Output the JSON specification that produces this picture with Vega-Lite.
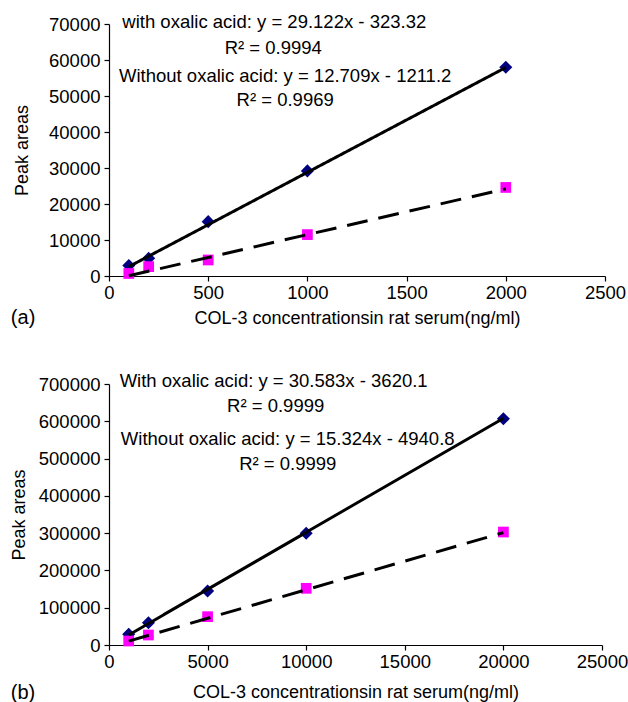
{
  "$schema": "https://vega.github.io/schema/vega-lite/v6.json",
  "background": "white",
  "padding": {"left": 10, "top": 13, "right": 0, "bottom": 0},
  "spacing": 43,
  "config": {
    "view": {"stroke": null},
    "font": "Liberation Sans",
    "axis": {
      "grid": false, "domainColor": "black", "tickColor": "black", "labelColor": "black", "titleColor": "black",
      "labelFont": "Liberation Sans", "titleFont": "Liberation Sans", "labelFontSize": 18.5, "titleFontSize": 18,
      "titleFontWeight": "normal", "tickSize": 5, "domainWidth": 1.2, "tickWidth": 1.2,
      "labelFlush": false, "labelOverlap": false, "labelBound": false
    },
    "text": {"font": "Liberation Sans", "fontSize": 18.5, "color": "black"}
  },
  "datasets": {
    "one": [{"k": 1}],
    "a_pts": [
      {"series": "with", "conc": 100, "area": 2900},
      {"series": "with", "conc": 200, "area": 4900},
      {"series": "with", "conc": 500, "area": 15100},
      {"series": "with", "conc": 1000, "area": 29200},
      {"series": "with", "conc": 2000, "area": 58000},
      {"series": "without", "conc": 100, "area": 700},
      {"series": "without", "conc": 200, "area": 2600},
      {"series": "without", "conc": 500, "area": 4450},
      {"series": "without", "conc": 1000, "area": 11500},
      {"series": "without", "conc": 2000, "area": 24600}
    ],
    "a_fit": [
      {"series": "with", "conc": 100, "area": 2589},
      {"series": "with", "conc": 2000, "area": 57921},
      {"series": "without", "conc": 100, "area": 60},
      {"series": "without", "conc": 2000, "area": 24207}
    ],
    "b_pts": [
      {"series": "with", "conc": 1000, "area": 28700},
      {"series": "with", "conc": 2000, "area": 59800},
      {"series": "with", "conc": 5000, "area": 144800},
      {"series": "with", "conc": 10000, "area": 299500},
      {"series": "with", "conc": 20000, "area": 607000},
      {"series": "without", "conc": 1000, "area": 10700},
      {"series": "without", "conc": 2000, "area": 26800},
      {"series": "without", "conc": 5000, "area": 76000},
      {"series": "without", "conc": 10000, "area": 152000},
      {"series": "without", "conc": 20000, "area": 303000}
    ],
    "b_fit": [
      {"series": "with", "conc": 1000, "area": 26963},
      {"series": "with", "conc": 20000, "area": 608040},
      {"series": "without", "conc": 1000, "area": 10383},
      {"series": "without", "conc": 20000, "area": 301539}
    ]
  },
  "vconcat": [
    {
      "width": 496,
      "height": 252,
      "encoding": {
        "x": {"type": "quantitative", "scale": {"domain": [0, 2500], "nice": false},
              "axis": {"values": [0, 500, 1000, 1500, 2000, 2500], "format": "d", "labelPadding": 2, "titlePadding": 8, "title": "COL-3 concentrationsin rat serum(ng/ml)"}},
        "y": {"type": "quantitative", "scale": {"domain": [0, 70000], "nice": false},
              "axis": {"values": [0, 10000, 20000, 30000, 40000, 50000, 60000, 70000], "format": "d", "labelPadding": 4, "titlePadding": 17, "title": "Peak areas"}}
      },
      "layer": [
        {
          "data": {"name": "a_pts"},
          "mark": {"type": "point", "filled": true, "opacity": 1, "strokeWidth": 0},
          "encoding": {
            "x": {"field": "conc", "type": "quantitative"},
            "y": {"field": "area", "type": "quantitative"},
            "shape": {"field": "series", "type": "nominal", "scale": {"domain": ["with", "without"], "range": ["diamond", "square"]}, "legend": null},
            "color": {"field": "series", "type": "nominal", "scale": {"domain": ["with", "without"], "range": ["#000080", "#FF00FF"]}, "legend": null},
            "size": {"field": "series", "type": "nominal", "scale": {"domain": ["with", "without"], "range": [170, 115]}, "legend": null}
          }
        },
        {
          "data": {"name": "a_fit"},
          "mark": {"type": "line", "color": "black", "strokeWidth": 3},
          "encoding": {
            "x": {"field": "conc", "type": "quantitative"},
            "y": {"field": "area", "type": "quantitative"},
            "detail": {"field": "series"},
            "strokeDash": {"field": "series", "type": "nominal", "scale": {"domain": ["with", "without"], "range": [[1, 0], [21, 11]]}, "legend": null}
          }
        },
        {"data": {"name": "one"}, "mark": {"type": "text"}, "encoding": {"x": {"datum": 833}, "y": {"datum": 70500}, "text": {"value": "with oxalic acid: y = 29.122x - 323.32"}}},
        {"data": {"name": "one"}, "mark": {"type": "text"}, "encoding": {"x": {"datum": 828}, "y": {"datum": 63300}, "text": {"value": "R² = 0.9994"}}},
        {"data": {"name": "one"}, "mark": {"type": "text"}, "encoding": {"x": {"datum": 888}, "y": {"datum": 55600}, "text": {"value": "Without oxalic acid: y = 12.709x - 1211.2"}}},
        {"data": {"name": "one"}, "mark": {"type": "text"}, "encoding": {"x": {"datum": 888}, "y": {"datum": 48900}, "text": {"value": "R² = 0.9969"}}},
        {"data": {"name": "one"}, "mark": {"type": "text", "fontSize": 20}, "encoding": {"x": {"datum": -433}, "y": {"datum": -11667}, "text": {"value": "(a)"}}}
      ]
    },
    {
      "width": 493,
      "height": 261,
      "encoding": {
        "x": {"type": "quantitative", "scale": {"domain": [0, 25000], "nice": false},
              "axis": {"values": [0, 5000, 10000, 15000, 20000, 25000], "format": "d", "labelPadding": 2, "titlePadding": 13, "title": "COL-3 concentrationsin rat serum(ng/ml)"}},
        "y": {"type": "quantitative", "scale": {"domain": [0, 700000], "nice": false},
              "axis": {"values": [0, 100000, 200000, 300000, 400000, 500000, 600000, 700000], "format": "d", "labelPadding": 4, "titlePadding": 10, "title": "Peak areas"}}
      },
      "layer": [
        {
          "data": {"name": "b_pts"},
          "mark": {"type": "point", "filled": true, "opacity": 1, "strokeWidth": 0},
          "encoding": {
            "x": {"field": "conc", "type": "quantitative"},
            "y": {"field": "area", "type": "quantitative"},
            "shape": {"field": "series", "type": "nominal", "scale": {"domain": ["with", "without"], "range": ["diamond", "square"]}, "legend": null},
            "color": {"field": "series", "type": "nominal", "scale": {"domain": ["with", "without"], "range": ["#000080", "#FF00FF"]}, "legend": null},
            "size": {"field": "series", "type": "nominal", "scale": {"domain": ["with", "without"], "range": [170, 115]}, "legend": null}
          }
        },
        {
          "data": {"name": "b_fit"},
          "mark": {"type": "line", "color": "black", "strokeWidth": 3},
          "encoding": {
            "x": {"field": "conc", "type": "quantitative"},
            "y": {"field": "area", "type": "quantitative"},
            "detail": {"field": "series"},
            "strokeDash": {"field": "series", "type": "nominal", "scale": {"domain": ["with", "without"], "range": [[1, 0], [21, 11]]}, "legend": null}
          }
        },
        {"data": {"name": "one"}, "mark": {"type": "text"}, "encoding": {"x": {"datum": 8350}, "y": {"datum": 708000}, "text": {"value": "With oxalic acid: y = 30.583x - 3620.1"}}},
        {"data": {"name": "one"}, "mark": {"type": "text"}, "encoding": {"x": {"datum": 8452}, "y": {"datum": 641000}, "text": {"value": "R² = 0.9999"}}},
        {"data": {"name": "one"}, "mark": {"type": "text"}, "encoding": {"x": {"datum": 9063}, "y": {"datum": 552500}, "text": {"value": "Without oxalic acid: y = 15.324x - 4940.8"}}},
        {"data": {"name": "one"}, "mark": {"type": "text"}, "encoding": {"x": {"datum": 9063}, "y": {"datum": 485400}, "text": {"value": "R² = 0.9999"}}},
        {"data": {"name": "one"}, "mark": {"type": "text", "fontSize": 20}, "encoding": {"x": {"datum": -4361}, "y": {"datum": -128736}, "text": {"value": "(b)"}}}
      ]
    }
  ]
}
